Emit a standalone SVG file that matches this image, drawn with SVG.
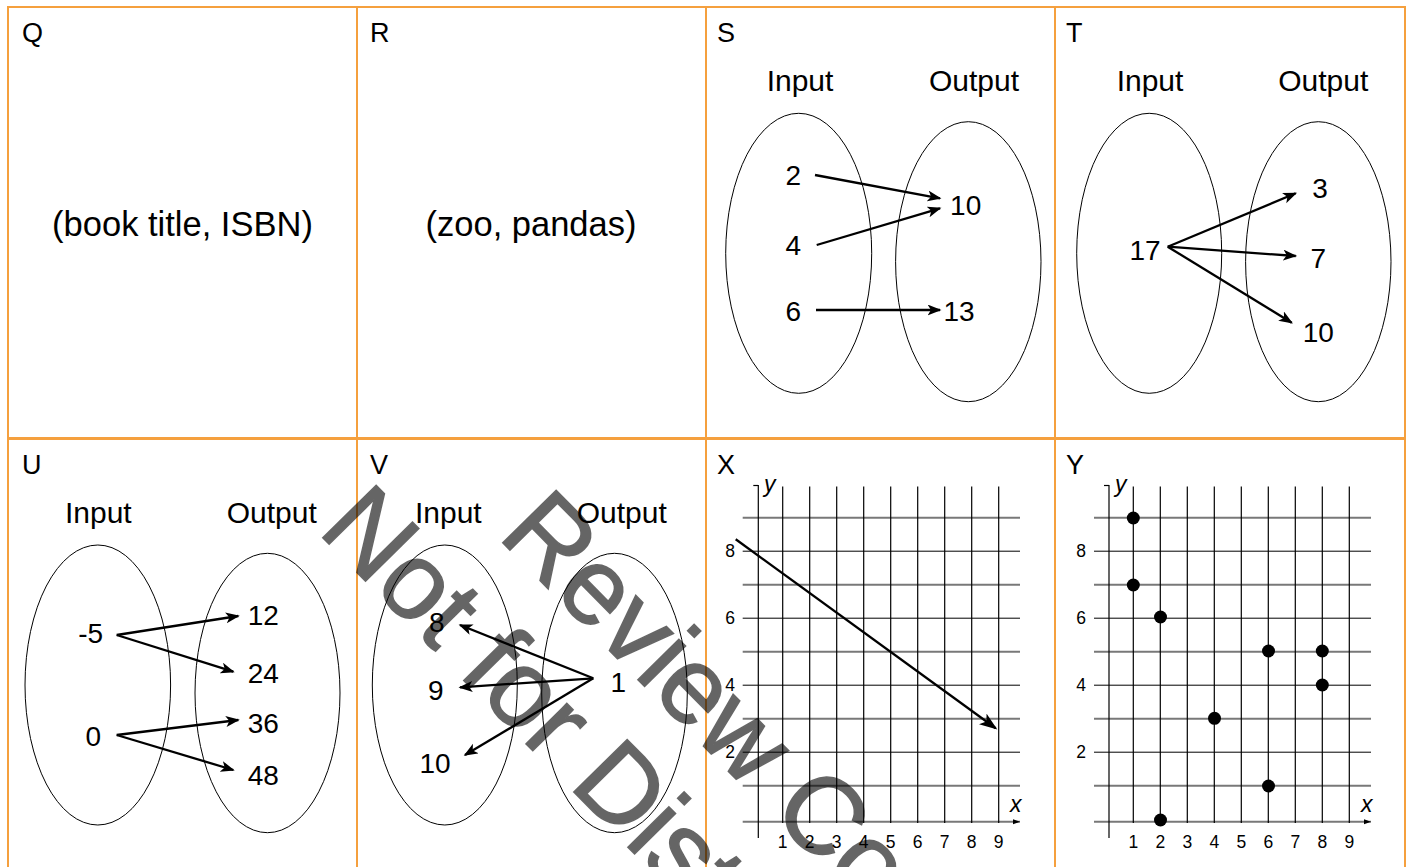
<svg xmlns="http://www.w3.org/2000/svg" width="1410" height="867" viewBox="0 0 1410 867">
<defs>
<style>
text{font-family:"Liberation Sans",Arial,Helvetica,sans-serif;fill:#000}
.lbl{font-size:27px}
.io{font-size:30px;text-anchor:middle}
.num{font-size:28px;text-anchor:middle}
.pair{font-size:34.5px;text-anchor:middle}
.ell{fill:none;stroke:#000;stroke-width:1}
.arr{fill:none;stroke:#000;stroke-width:2.3;marker-end:url(#ah)}
.border{fill:none;stroke:#F5A03E;stroke-width:2}
.gg{stroke:#787878;stroke-width:2}
.gb{stroke:#000;stroke-width:1}
.gv{stroke:#000;stroke-width:1.2}
.tk{font-size:17.5px;text-anchor:middle}
.ax{font-size:23px;font-style:italic}
.dot{fill:#000}
.wm{font-size:109px;fill:#000;stroke:#000;stroke-width:1.5}
</style>
<marker id="ah" markerUnits="userSpaceOnUse" markerWidth="16" markerHeight="12" refX="12.5" refY="5.5" orient="auto">
<path d="M0,0 L14,5.5 L0,11 L3.5,5.5 Z" fill="#000"/>
</marker>
<marker id="ahb" markerUnits="userSpaceOnUse" markerWidth="20" markerHeight="14" refX="16" refY="6.5" orient="auto">
<path d="M0,0 L18,6.5 L0,13 L4.5,6.5 Z" fill="#000"/>
</marker>
<marker id="ahs" markerUnits="userSpaceOnUse" markerWidth="8" markerHeight="6" refX="7" refY="3" orient="auto">
<path d="M0,0.5 L7,3 L0,5.5 Z" fill="#000"/>
</marker>
</defs>
<rect width="1410" height="867" fill="#fff"/>

<g id="table">
<rect class="border" x="8" y="7" width="1397" height="880"/>
<line class="border" x1="357" y1="7" x2="357" y2="867"/>
<line class="border" x1="706" y1="7" x2="706" y2="867"/>
<line class="border" x1="1055" y1="7" x2="1055" y2="867"/>
<line class="border" x1="8" y1="438.5" x2="1405" y2="438.5" style="stroke-width:3"/>
</g>

<g id="panel-Q">
<text class="lbl" x="22" y="42">Q</text>
<text class="pair" x="182.5" y="236">(book title, ISBN)</text>
</g>

<g id="panel-R">
<text class="lbl" x="370" y="42">R</text>
<text class="pair" x="531" y="236">(zoo, pandas)</text>
</g>

<g id="panel-S">
<text class="lbl" x="717" y="42">S</text>
<text class="io" x="800" y="91">Input</text>
<text class="io" x="974" y="91">Output</text>
<ellipse class="ell" cx="798.7" cy="253.3" rx="73" ry="140"/>
<ellipse class="ell" cx="968.3" cy="261.7" rx="72.7" ry="140"/>
<text class="num" x="793.3" y="185">2</text>
<text class="num" x="793.3" y="255">4</text>
<text class="num" x="793.3" y="320.5">6</text>
<text class="num" x="965.7" y="215">10</text>
<text class="num" x="959" y="320.5">13</text>
</g>

<g id="panel-T">
<text class="lbl" x="1066" y="42">T</text>
<text class="io" x="1150" y="91">Input</text>
<text class="io" x="1323.3" y="91">Output</text>
<ellipse class="ell" cx="1149.2" cy="253.3" rx="72.5" ry="140"/>
<ellipse class="ell" cx="1318.3" cy="261.7" rx="72.7" ry="140"/>
<text class="num" x="1145" y="260">17</text>
<text class="num" x="1320" y="198">3</text>
<text class="num" x="1318.3" y="268">7</text>
<text class="num" x="1318.3" y="341.5">10</text>
</g>

<g id="panel-U">
<text class="lbl" x="22" y="474">U</text>
<text class="io" x="98.3" y="523">Input</text>
<text class="io" x="271.7" y="523">Output</text>
<ellipse class="ell" cx="97.8" cy="685" rx="72.8" ry="140"/>
<ellipse class="ell" cx="267.5" cy="693" rx="72.5" ry="139.7"/>
<text class="num" x="90.7" y="643">-5</text>
<text class="num" x="93.3" y="746">0</text>
<text class="num" x="263.3" y="625">12</text>
<text class="num" x="263.3" y="683">24</text>
<text class="num" x="263.3" y="733">36</text>
<text class="num" x="263.3" y="785">48</text>
</g>

<g id="panel-V">
<text class="lbl" x="370" y="474">V</text>
<text class="io" x="448.3" y="523">Input</text>
<text class="io" x="621.7" y="523">Output</text>
<ellipse class="ell" cx="444.8" cy="685" rx="72.5" ry="140"/>
<ellipse class="ell" cx="614.5" cy="693" rx="72.8" ry="139.7"/>
<text class="num" x="436.7" y="631.5">8</text>
<text class="num" x="435.7" y="700">9</text>
<text class="num" x="435" y="773">10</text>
<text class="num" x="618.3" y="691.5">1</text>
</g>

<g id="panel-X">
<text class="lbl" x="717" y="474">X</text>
<g>
<line class="gg" x1="742.7" y1="517.7" x2="1020" y2="517.7"/>
<line class="gb" x1="742.7" y1="551.2" x2="1020" y2="551.2"/>
<line class="gg" x1="742.7" y1="584.7" x2="1020" y2="584.7"/>
<line class="gb" x1="742.7" y1="618.2" x2="1020" y2="618.2"/>
<line class="gg" x1="742.7" y1="651.7" x2="1020" y2="651.7"/>
<line class="gb" x1="742.7" y1="685.2" x2="1020" y2="685.2"/>
<line class="gg" x1="742.7" y1="718.7" x2="1020" y2="718.7"/>
<line class="gb" x1="742.7" y1="752.2" x2="1020" y2="752.2"/>
<line class="gg" x1="742.7" y1="785.7" x2="1020" y2="785.7"/>
<line class="gg" x1="742.7" y1="821.7" x2="1020" y2="821.7" marker-end="url(#ahs)"/>
<line class="gv" x1="782.7" y1="486.5" x2="782.7" y2="823"/>
<line class="gv" x1="809.7" y1="486.5" x2="809.7" y2="823"/>
<line class="gv" x1="836.7" y1="486.5" x2="836.7" y2="823"/>
<line class="gv" x1="863.7" y1="486.5" x2="863.7" y2="823"/>
<line class="gv" x1="890.7" y1="486.5" x2="890.7" y2="823"/>
<line class="gv" x1="917.7" y1="486.5" x2="917.7" y2="823"/>
<line class="gv" x1="944.7" y1="486.5" x2="944.7" y2="823"/>
<line class="gv" x1="971.7" y1="486.5" x2="971.7" y2="823"/>
<line class="gv" x1="998.7" y1="486.5" x2="998.7" y2="823"/>
<line class="gv" x1="758.3" y1="485" x2="758.3" y2="838"/>
<line class="gv" x1="753.3" y1="485.5" x2="758.3" y2="485.5"/>
</g>
<text class="ax" x="764" y="492">y</text>
<text class="ax" x="1010" y="811.7">x</text>
<text class="tk" x="730" y="557.4">8</text>
<text class="tk" x="730" y="624.4">6</text>
<text class="tk" x="730" y="691.4">4</text>
<text class="tk" x="730" y="758.4">2</text>
<text class="tk" x="782.7" y="847.5">1</text>
<text class="tk" x="809.7" y="847.5">2</text>
<text class="tk" x="836.7" y="847.5">3</text>
<text class="tk" x="863.7" y="847.5">4</text>
<text class="tk" x="890.7" y="847.5">5</text>
<text class="tk" x="917.7" y="847.5">6</text>
<text class="tk" x="944.7" y="847.5">7</text>
<text class="tk" x="971.7" y="847.5">8</text>
<text class="tk" x="998.7" y="847.5">9</text>
</g>

<g id="panel-Y">
<text class="lbl" x="1066" y="474">Y</text>
<g>
<line class="gg" x1="1094" y1="517.7" x2="1371" y2="517.7"/>
<line class="gb" x1="1094" y1="551.2" x2="1371" y2="551.2"/>
<line class="gg" x1="1094" y1="584.7" x2="1371" y2="584.7"/>
<line class="gb" x1="1094" y1="618.2" x2="1371" y2="618.2"/>
<line class="gg" x1="1094" y1="651.7" x2="1371" y2="651.7"/>
<line class="gb" x1="1094" y1="685.2" x2="1371" y2="685.2"/>
<line class="gg" x1="1094" y1="718.7" x2="1371" y2="718.7"/>
<line class="gb" x1="1094" y1="752.2" x2="1371" y2="752.2"/>
<line class="gg" x1="1094" y1="785.7" x2="1371" y2="785.7"/>
<line class="gg" x1="1094" y1="821.7" x2="1371" y2="821.7" marker-end="url(#ahs)"/>
<line class="gv" x1="1133.3" y1="486.5" x2="1133.3" y2="823"/>
<line class="gv" x1="1160.3" y1="486.5" x2="1160.3" y2="823"/>
<line class="gv" x1="1187.3" y1="486.5" x2="1187.3" y2="823"/>
<line class="gv" x1="1214.3" y1="486.5" x2="1214.3" y2="823"/>
<line class="gv" x1="1241.3" y1="486.5" x2="1241.3" y2="823"/>
<line class="gv" x1="1268.3" y1="486.5" x2="1268.3" y2="823"/>
<line class="gv" x1="1295.3" y1="486.5" x2="1295.3" y2="823"/>
<line class="gv" x1="1322.3" y1="486.5" x2="1322.3" y2="823"/>
<line class="gv" x1="1349.3" y1="486.5" x2="1349.3" y2="823"/>
<line class="gv" x1="1109" y1="485" x2="1109" y2="838"/>
<line class="gv" x1="1104" y1="485.5" x2="1109" y2="485.5"/>
</g>
<text class="ax" x="1115" y="492">y</text>
<text class="ax" x="1361" y="811.7">x</text>
<text class="tk" x="1081" y="557.4">8</text>
<text class="tk" x="1081" y="624.4">6</text>
<text class="tk" x="1081" y="691.4">4</text>
<text class="tk" x="1081" y="758.4">2</text>
<text class="tk" x="1133.3" y="847.5">1</text>
<text class="tk" x="1160.3" y="847.5">2</text>
<text class="tk" x="1187.3" y="847.5">3</text>
<text class="tk" x="1214.3" y="847.5">4</text>
<text class="tk" x="1241.3" y="847.5">5</text>
<text class="tk" x="1268.3" y="847.5">6</text>
<text class="tk" x="1295.3" y="847.5">7</text>
<text class="tk" x="1322.3" y="847.5">8</text>
<text class="tk" x="1349.3" y="847.5">9</text>
<circle class="dot" cx="1133.3" cy="518" r="6.5"/>
<circle class="dot" cx="1133.3" cy="585" r="6.5"/>
<circle class="dot" cx="1160.5" cy="617" r="6.5"/>
<circle class="dot" cx="1160.5" cy="820" r="6.5"/>
<circle class="dot" cx="1214.5" cy="718.3" r="6.5"/>
<circle class="dot" cx="1268.5" cy="651" r="6.5"/>
<circle class="dot" cx="1268.5" cy="786" r="6.5"/>
<circle class="dot" cx="1322.3" cy="651" r="6.5"/>
<circle class="dot" cx="1322.3" cy="685" r="6.5"/>
</g>

<g id="connectors">
<line class="arr" x1="815" y1="175" x2="940" y2="198.3"/>
<line class="arr" x1="816.7" y1="245" x2="940" y2="208.3"/>
<line class="arr" x1="816" y1="310" x2="940" y2="310"/>
<line class="arr" x1="1167.7" y1="246.7" x2="1295.7" y2="193.3"/>
<line class="arr" x1="1167.7" y1="246.7" x2="1295.7" y2="256"/>
<line class="arr" x1="1167.7" y1="246.7" x2="1291.7" y2="322.7"/>
<line class="arr" x1="116.7" y1="635" x2="238.3" y2="616"/>
<line class="arr" x1="116.7" y1="635" x2="233.3" y2="671.7"/>
<line class="arr" x1="116.7" y1="735" x2="238.3" y2="720"/>
<line class="arr" x1="116.7" y1="735" x2="233.3" y2="770"/>
<line class="arr" x1="593.3" y1="678.3" x2="460" y2="625"/>
<line class="arr" x1="593.3" y1="678.3" x2="460" y2="687.3"/>
<line class="arr" x1="593.3" y1="678.3" x2="465" y2="755"/>
<line x1="735.7" y1="539.3" x2="995.7" y2="728.3" stroke="#000" stroke-width="2.3" marker-end="url(#ahb)"/>
</g>

<g id="watermark" opacity="0.6">
<text class="wm" transform="translate(316.6,531.4) rotate(45.4)">Not for Distribution</text>
<text class="wm" transform="translate(496.6,536.4) rotate(45.4)">Review Copy</text>
</g>
</svg>
